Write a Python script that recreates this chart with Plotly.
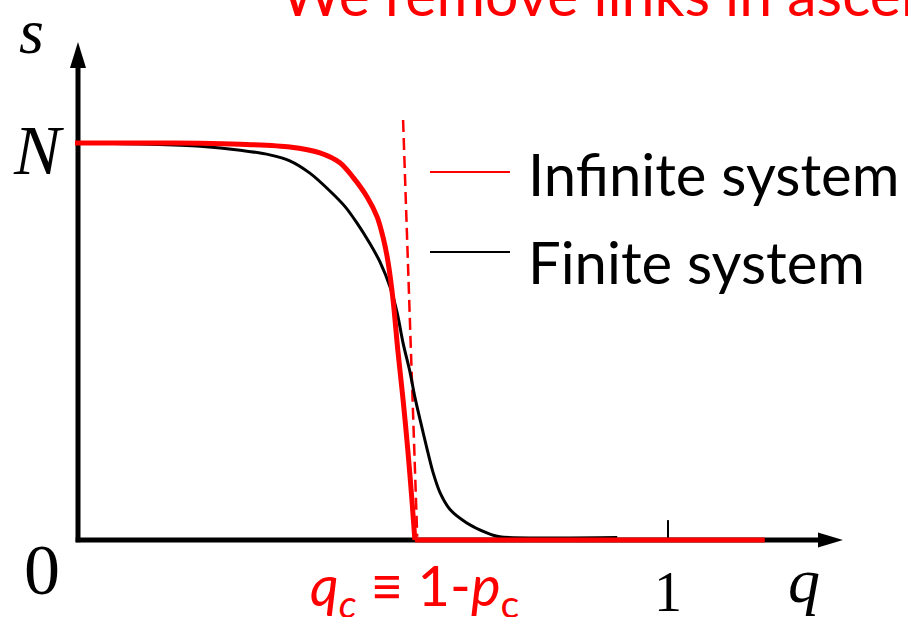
import plotly.graph_objects as go

# Giant component size S versus fraction of removed links q
q_infinite = [-0.005, 0.122, 0.207, 0.275, 0.359, 0.410, 0.444, 0.466, 0.490, 0.507,
              0.517, 0.525, 0.534, 0.542, 0.551, 0.559, 0.566, 0.571]
s_infinite = [1.000, 1.000, 0.9995, 0.997, 0.990, 0.975, 0.950, 0.914, 0.864, 0.814,
              0.763, 0.705, 0.605, 0.479, 0.353, 0.227, 0.101, 0.000]
q_infinite_tail = [0.571, 1.164]
s_infinite_tail = [0.000, 0.000]

q_finite = [0.000, 0.122, 0.207, 0.275, 0.325, 0.359, 0.393, 0.427, 0.453, 0.473,
            0.495, 0.512, 0.529, 0.541, 0.551, 0.563, 0.571, 0.580, 0.592, 0.602,
            0.614, 0.631, 0.659, 0.693, 0.715, 0.800, 0.914]
s_finite = [1.000, 0.997, 0.992, 0.982, 0.970, 0.955, 0.924, 0.879, 0.839, 0.798,
            0.746, 0.700, 0.637, 0.572, 0.496, 0.421, 0.360, 0.302, 0.227, 0.169,
            0.118, 0.076, 0.043, 0.018, 0.008, 0.005, 0.006]

# Critical point marker (dashed)
q_crit = [0.551, 0.575]
s_crit = [1.058, 0.008]

legend_labels = ["Infinite system", "Finite system"]
title_text = "We remove links in ascending order"

RED = "#ff0000"
BLACK = "#000000"
SANS = "Lato, 'Open Sans', sans-serif"
SERIF = "'Liberation Serif', 'Times New Roman', serif"

X_RANGE = [-0.1322, 1.4068]
Y_RANGE = [-0.1940, 1.3602]

fig = go.Figure()

fig.add_trace(go.Scatter(x=q_crit, y=s_crit, mode="lines",
                         line=dict(color=RED, width=2.5, dash="12px,6px"),
                         hoverinfo="skip"))
fig.add_trace(go.Scatter(x=q_finite, y=s_finite, mode="lines",
                         line=dict(color=BLACK, width=3, shape="spline", smoothing=0.8),
                         hoverinfo="skip"))
fig.add_trace(go.Scatter(x=q_infinite, y=s_infinite, mode="lines",
                         line=dict(color=RED, width=5, shape="spline", smoothing=0.8),
                         hoverinfo="skip"))
fig.add_trace(go.Scatter(x=q_infinite_tail, y=s_infinite_tail, mode="lines",
                         line=dict(color=RED, width=5), hoverinfo="skip"))

shapes = []
# axes
shapes.append(dict(type="line", x0=0, x1=0, y0=-0.006, y1=1.20,
                   line=dict(color=BLACK, width=5), layer="below"))
shapes.append(dict(type="line", x0=-0.004, x1=1.26, y0=0, y1=0,
                   line=dict(color=BLACK, width=5), layer="below"))
# arrow heads
shapes.append(dict(type="path", path="M 0 1.2544 L 0.0136 1.1889 L -0.0136 1.1889 Z",
                   fillcolor=BLACK, line=dict(width=0), layer="below"))
shapes.append(dict(type="path", path="M 1.2966 0 L 1.2542 0.0189 L 1.2542 -0.0189 Z",
                   fillcolor=BLACK, line=dict(width=0), layer="below"))
# tick at q = 1
shapes.append(dict(type="line", x0=1, x1=1, y0=0, y1=0.05,
                   line=dict(color=BLACK, width=2), layer="below"))
# legend samples
shapes.append(dict(type="line", x0=0.5966, x1=0.7322, y0=0.927, y1=0.927,
                   line=dict(color=RED, width=2)))
shapes.append(dict(type="line", x0=0.5966, x1=0.7322, y0=0.7254, y1=0.7254,
                   line=dict(color=BLACK, width=2)))

annotations = [
    dict(text=title_text, x=279 / 908, y=1 + 6 / 617, xref="paper", yref="paper",
         xanchor="left", yanchor="middle", showarrow=False,
         font=dict(family=SANS, size=59, color=RED)),
    dict(text=legend_labels[0], x=526 / 908, y=1 - 173 / 617, xref="paper", yref="paper",
         xanchor="left", yanchor="middle", showarrow=False,
         font=dict(family=SANS, size=58, color=BLACK)),
    dict(text=legend_labels[1], x=526 / 908, y=1 - 261 / 617, xref="paper", yref="paper",
         xanchor="left", yanchor="middle", showarrow=False,
         font=dict(family=SANS, size=58, color=BLACK)),
    dict(text="<i>s</i>", x=31 / 908, y=1 - 31 / 617, xref="paper", yref="paper",
         xanchor="center", yanchor="middle", showarrow=False,
         font=dict(family=SERIF, size=64, color=BLACK)),
    dict(text="<i>N</i>", x=38 / 908, y=1 - 150 / 617, xref="paper", yref="paper",
         xanchor="center", yanchor="middle", showarrow=False,
         font=dict(family=SERIF, size=70, color=BLACK)),
    dict(text="0", x=42 / 908, y=1 - 570 / 617, xref="paper", yref="paper",
         xanchor="center", yanchor="middle", showarrow=False,
         font=dict(family=SERIF, size=72, color=BLACK)),
    dict(text="1", x=668 / 908, y=1 - 592 / 617, xref="paper", yref="paper",
         xanchor="center", yanchor="middle", showarrow=False,
         font=dict(family=SERIF, size=56, color=BLACK)),
    dict(text="<i>q</i>", x=804 / 908, y=1 - 580 / 617, xref="paper", yref="paper",
         xanchor="center", yanchor="middle", showarrow=False,
         font=dict(family=SERIF, size=64, color=BLACK)),
    dict(text="<i>q</i><sub><i>c</i></sub> \u2261 1-<i>p</i><sub>c</sub>",
         x=308 / 908, y=1 - 588 / 617, xref="paper", yref="paper",
         xanchor="left", yanchor="middle", showarrow=False,
         font=dict(family=SANS, size=56, color=RED)),
]

fig.update_layout(
    width=908, height=617,
    margin=dict(l=0, r=0, t=0, b=0),
    paper_bgcolor="white", plot_bgcolor="white",
    showlegend=False,
    xaxis=dict(range=X_RANGE, visible=False, fixedrange=True),
    yaxis=dict(range=Y_RANGE, visible=False, fixedrange=True),
    shapes=shapes, annotations=annotations,
)

fig.write_html("out.html", config={"displayModeBar": False})
